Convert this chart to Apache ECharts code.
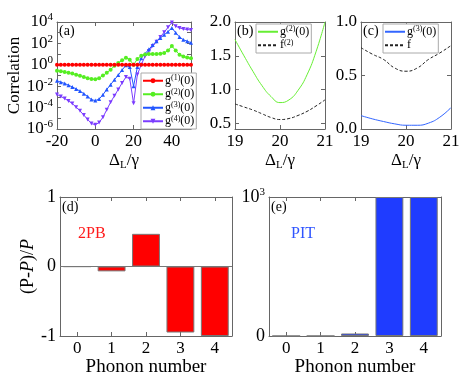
<!DOCTYPE html>
<html>
<head>
<meta charset="utf-8">
<script src="https://cdn.jsdelivr.net/npm/echarts@6/dist/echarts.min.js"></script>
<style>
html, body { margin: 0; padding: 0; background: #fff; }
#main { width: 469px; height: 387px; }
</style>
</head>
<body>
<div id="main"></div>
<script>
// (a) correlations vs detuning
let detA = [-20,-18,-16,-14,-12,-10,-8,-6,-4,-2,0,2,4,6,8,10,12,14,16,18,20,22,24,26,28,30,32,34,36,38,40,42,44,46,48,50];
let g1A = [1,1,1,1,1,1,1,1,1,1,1,1,1,1,1,1,1,1,1,1,1,1,1,1,1,1,1,1,1,1,1,1,1,1,1,1];
let g2A = [0.28,0.25,0.21,0.18,0.15,0.12,0.095,0.074,0.056,0.047,0.044,0.056,0.1,0.18,0.35,0.8,1.5,2.6,4.6,3.0,1.0,3.5,7.1,9.3,10,10,10,10.5,12.6,22,56,22,8.9,6.0,4.8,4.0];
let g3A = [0.032,0.024,0.018,0.0126,0.0085,0.0056,0.0035,0.002,0.0011,0.00056,0.00045,0.00063,0.0016,0.005,0.014,0.04,0.11,0.32,0.9,0.63,0.01,0.63,4.0,11,28,71,160,320,630,1260,2800,1000,400,220,160,117];
let g4A = [0.0017,0.0011,0.0007,0.00042,0.00024,0.00011,0.00005,0.00002,0.0000079,0.0000032,0.0000025,0.000004,0.0000126,0.000063,0.00032,0.00126,0.005,0.02,0.071,0.05,0.00025,0.126,1.0,6.3,20,56,141,400,1120,3160,8900,4000,2800,2240,2000,1780];
let decades = [1e-6,1e-5,1e-4,1e-3,1e-2,1e-1,1,1e1,1e2,1e3,1e4];
let decadeLabels = [1e-6,1e-4,1e-2,1,1e2,1e4];

// (b) close-up of g2 and f2
let detB = [19,19.2,19.4,19.6,19.8,20,20.2,20.4,20.6,20.8,21];
let g2B = [1.74,1.5,1.27,1.06,0.9,0.81,0.85,0.99,1.22,1.56,2.0];
let f2B = [0.79,0.745,0.70,0.645,0.59,0.56,0.575,0.62,0.68,0.76,0.85];
let ticksB = [0.5,1.0,1.5,2.0];

// (c) close-up of g3 and f
let detC = [19,19.25,19.5,19.75,20,20.25,20.5,20.75,21];
let g3C = [0.125,0.095,0.07,0.048,0.035,0.035,0.055,0.11,0.2];
let fC = [0.76,0.70,0.65,0.57,0.54,0.57,0.65,0.71,0.78];

// (d),(e) phonon number distributions
let phonon = ['0','1','2','3','4'];
let devPB = [-0.003,-0.07,0.47,-0.95,-1.0];
let ratioPIT = [0.3,0.6,18,1000,1000];

const FONT = 'Liberation Serif';
const AXC = '#666';

function pairs(xs, ys) {
    return xs.map(function (x, i) { return [x, ys[i]]; });
}

function merge(a, b) {
    let out = Object.assign({}, a);
    for (let k in b) {
        if (b[k] && typeof b[k] === 'object' && !Array.isArray(b[k]) && a[k] && typeof a[k] === 'object') {
            out[k] = Object.assign({}, a[k], b[k]);
        } else {
            out[k] = b[k];
        }
    }
    return out;
}

function axisBase(grid, pos, showLabel) {
    return {
        gridIndex: grid,
        position: pos,
        axisLine: {show: true, onZero: false, lineStyle: {color: AXC, width: 1}},
        axisTick: {show: true, inside: true, length: 4, lineStyle: {color: AXC}},
        splitLine: {show: false},
        axisLabel: {show: showLabel, fontFamily: FONT, fontSize: 17, color: '#000', margin: 4}
    };
}

let supRich = {
    sup: {fontFamily: FONT, fontSize: 11, verticalAlign: 'top', color: '#000'}
};
let subRich = {
    sub: {fontFamily: FONT, fontSize: 11, verticalAlign: 'bottom', color: '#000'}
};
let deltaName = {
    name: 'Δ{sub|L}/γ',
    nameLocation: 'middle',
    nameGap: 18,
    nameTextStyle: {fontFamily: FONT, fontSize: 17, color: '#000', lineHeight: 20, rich: subRich}
};

function expLabel(v) {
    let n = Math.round(Math.log10(v));
    return '10{sup|' + (n < 0 ? '-' + (-n) : n) + '}';
}

let xAxes = [
    // (a)
    merge(axisBase(0, 'bottom', true), Object.assign({type: 'value', min: -20, max: 50, interval: 20,
        axisLabel: {showMaxLabel: false}}, deltaName)),
    merge(axisBase(0, 'top', false), {type: 'value', min: -20, max: 50, interval: 20}),
    // (b)
    merge(axisBase(1, 'bottom', true), Object.assign({type: 'value', min: 19, max: 21, interval: 1}, deltaName)),
    merge(axisBase(1, 'top', false), {type: 'value', min: 19, max: 21, interval: 1}),
    // (c)
    merge(axisBase(2, 'bottom', true), Object.assign({type: 'value', min: 19, max: 21, interval: 1}, deltaName)),
    merge(axisBase(2, 'top', false), {type: 'value', min: 19, max: 21, interval: 1}),
    // (d)
    merge(axisBase(3, 'bottom', true), {type: 'category', data: phonon,
        axisTick: {alignWithLabel: true},
        name: 'Phonon number', nameLocation: 'middle', nameGap: 18,
        nameTextStyle: {fontFamily: FONT, fontSize: 19, color: '#000'}}),
    merge(axisBase(3, 'top', false), {type: 'category', data: phonon, axisTick: {alignWithLabel: true}}),
    // (e)
    merge(axisBase(4, 'bottom', true), {type: 'category', data: phonon,
        axisTick: {alignWithLabel: true},
        name: 'Phonon number', nameLocation: 'middle', nameGap: 18,
        nameTextStyle: {fontFamily: FONT, fontSize: 19, color: '#000'}}),
    merge(axisBase(4, 'top', false), {type: 'category', data: phonon, axisTick: {alignWithLabel: true}})
];

let yAxes = [
    // (a) log axis
    merge(axisBase(0, 'left', true), {type: 'log', logBase: 10, min: 1e-6, max: 1e4,
        axisTick: {customValues: decades},
        axisLabel: {customValues: decadeLabels, formatter: expLabel, lineHeight: 20, rich: supRich},
        name: 'Correlation', nameLocation: 'middle', nameGap: 27,
        nameTextStyle: {fontFamily: FONT, fontSize: 17, color: '#000'}}),
    merge(axisBase(0, 'right', false), {type: 'log', logBase: 10, min: 1e-6, max: 1e4,
        axisTick: {customValues: decades}}),
    // (b)
    merge(axisBase(1, 'left', true), {type: 'value', min: 0.42, max: 2.0,
        axisTick: {customValues: ticksB},
        axisLabel: {customValues: ticksB, formatter: function (v) { return v.toFixed(1); }}}),
    merge(axisBase(1, 'right', false), {type: 'value', min: 0.42, max: 2.0,
        axisTick: {customValues: ticksB}}),
    // (c)
    merge(axisBase(2, 'left', true), {type: 'value', min: 0, max: 1, interval: 0.5,
        axisLabel: {formatter: function (v) { return v.toFixed(1); }}}),
    merge(axisBase(2, 'right', false), {type: 'value', min: 0, max: 1, interval: 0.5}),
    // (d)
    merge(axisBase(3, 'left', true), {type: 'value', min: -1, max: 1, interval: 1,
        axisLabel: {fontSize: 18},
        name: '(P-{i|P})/{i|P}', nameLocation: 'middle', nameGap: 16,
        nameTextStyle: {fontFamily: FONT, fontSize: 18, color: '#000',
            rich: {i: {fontFamily: FONT, fontSize: 18, fontStyle: 'italic', color: '#000'}}}}),
    merge(axisBase(3, 'right', false), {type: 'value', min: -1, max: 1, interval: 1}),
    // (e)
    merge(axisBase(4, 'left', true), {type: 'value', min: 0, max: 1000, interval: 1000,
        axisLabel: {fontSize: 18, lineHeight: 20, rich: supRich,
            formatter: function (v) { return v === 0 ? '0' : '10{sup|3}'; }}}),
    merge(axisBase(4, 'right', false), {type: 'value', min: 0, max: 1000, interval: 1000})
];

let legendNames = {
    a1: 'g{sup|(1)}(0)', a2: 'g{sup|(2)}(0)', a3: 'g{sup|(3)}(0)', a4: 'g{sup|(4)}(0)',
    b2: 'g{sup|(2)}(0)', bf: 'f{sup|(2)}',
    c3: 'g{sup|(3)}(0)', cf: 'f'
};
let legendRich = {
    sup: {fontFamily: FONT, fontSize: 8, verticalAlign: 'top', color: '#000'}
};
function legendBox(left, top, names, hideSymbol) {
    let lg = {
        left: left, top: top, orient: 'vertical',
        data: names,
        backgroundColor: '#fff', borderColor: '#aaa', borderWidth: 1,
        padding: [1, 2, 1, 1], itemGap: 0, itemWidth: 20, itemHeight: 6,
        selectedMode: false,
        textStyle: {fontFamily: FONT, fontSize: 12, color: '#000', lineHeight: 13.5, padding: [0, 0, 0, -3], rich: legendRich},
        formatter: function (n) { return legendNames[n]; }
    };
    if (hideSymbol) lg.itemStyle = {opacity: 0};
    return lg;
}

function lineA(name, ys, color, symbol, rotate) {
    return {
        name: name, type: 'line', xAxisIndex: 0, yAxisIndex: 0,
        data: pairs(detA, ys),
        symbol: symbol, symbolSize: 4, symbolRotate: rotate || 0,
        lineStyle: {width: 1, color: color},
        itemStyle: {color: color}
    };
}

let chart = echarts.init(document.getElementById('main'), null, {renderer: 'canvas'});

let option = {
    animation: false,
    backgroundColor: '#fff',
    grid: [
        {left: 57, top: 22, width: 134, height: 107},
        {left: 235, top: 22, width: 90, height: 107},
        {left: 361, top: 22, width: 90, height: 107},
        {left: 60, top: 197, width: 172, height: 139},
        {left: 269, top: 197, width: 172, height: 139}
    ],
    xAxis: xAxes,
    yAxis: yAxes,
    legend: [
        legendBox(141, 73, ['a1', 'a2', 'a3', 'a4'], false),
        legendBox(256, 24, ['b2', 'bf'], true),
        legendBox(383, 24, ['c3', 'cf'], true)
    ],
    series: [
        lineA('a4', g4A, '#7b3cff', 'triangle', 180),
        lineA('a3', g3A, '#2256ff', 'triangle'),
        lineA('a2', g2A, '#55ee22', 'circle'),
        lineA('a1', g1A, '#ff0000', 'circle'),
        {name: 'b2', type: 'line', xAxisIndex: 2, yAxisIndex: 2, data: pairs(detB, g2B),
            smooth: true, symbol: 'none', lineStyle: {width: 1, color: '#66ee33'}, itemStyle: {color: '#66ee33'}},
        {name: 'bf', type: 'line', xAxisIndex: 2, yAxisIndex: 2, data: pairs(detB, f2B),
            smooth: true, symbol: 'none', lineStyle: {width: 1, color: '#222', type: [3, 2]}, itemStyle: {color: '#222'}},
        {name: 'c3', type: 'line', xAxisIndex: 4, yAxisIndex: 4, data: pairs(detC, g3C),
            smooth: true, symbol: 'none', lineStyle: {width: 1, color: '#3366ff'}, itemStyle: {color: '#3366ff'}},
        {name: 'cf', type: 'line', xAxisIndex: 4, yAxisIndex: 4, data: pairs(detC, fC),
            smooth: true, symbol: 'none', lineStyle: {width: 1, color: '#222', type: [3, 2]}, itemStyle: {color: '#222'}},
        {name: 'dPB', type: 'bar', xAxisIndex: 6, yAxisIndex: 6, data: devPB,
            barCategoryGap: '19%',
            itemStyle: {color: '#ff0000', borderColor: '#777', borderWidth: 1},
            markLine: {silent: true, symbol: 'none', label: {show: false},
                lineStyle: {color: '#777', type: 'solid', width: 1}, data: [{yAxis: 0}]}},
        {name: 'ePIT', type: 'bar', xAxisIndex: 8, yAxisIndex: 8, data: ratioPIT,
            barCategoryGap: '19%',
            itemStyle: {color: '#1f3cff', borderColor: '#777', borderWidth: 1}}
    ],
    graphic: [
        {type: 'text', left: 59, top: 24, style: {text: '(a)', fontFamily: FONT, fontSize: 14, fill: '#000'}},
        {type: 'text', left: 237, top: 24, style: {text: '(b)', fontFamily: FONT, fontSize: 14, fill: '#000'}},
        {type: 'text', left: 363, top: 24, style: {text: '(c)', fontFamily: FONT, fontSize: 14, fill: '#000'}},
        {type: 'text', left: 62, top: 200, style: {text: '(d)', fontFamily: FONT, fontSize: 14, fill: '#000'}},
        {type: 'text', left: 271, top: 200, style: {text: '(e)', fontFamily: FONT, fontSize: 14, fill: '#000'}},
        {type: 'text', left: 78, top: 226, style: {text: '2PB', fontFamily: FONT, fontSize: 16, fill: '#ff1a1a'}},
        {type: 'text', left: 291, top: 226, style: {text: 'PIT', fontFamily: FONT, fontSize: 16, fill: '#2f55ff'}}
    ]
};

chart.setOption(option);
</script>
</body>
</html>
